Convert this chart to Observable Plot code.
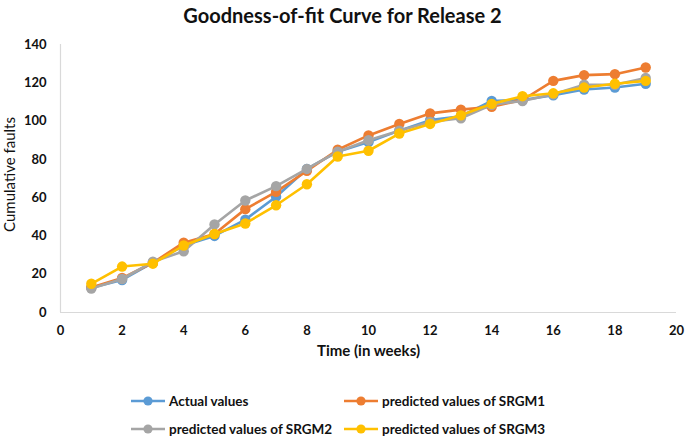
<!DOCTYPE html>
<html>
<head>
<meta charset="utf-8">
<script src="https://cdn.jsdelivr.net/npm/d3@7"></script>
<script src="https://cdn.jsdelivr.net/npm/@observablehq/plot@0.6"></script>
<style>
  body { margin: 0; background: #fff; font-family: Lato, "Open Sans", sans-serif; width: 685px; height: 438px; position: relative; overflow: hidden; }
  #title { height: 32px; line-height: 30px; text-align: center; font-weight: bold; font-size: 20px; color: #111; }
  .leg { position: absolute; display: flex; align-items: center; font-weight: bold; font-size: 13.5px; color: #111; white-space: nowrap; }
  .leg svg { margin-right: 3px; }
</style>
</head>
<body>
<div id="title">Goodness-of-fit Curve for Release 2</div>
<div id="chart"></div>
<div id="legend"></div>
<script>
const weeks = [1,2,3,4,5,6,7,8,9,10,11,12,13,14,15,16,17,18,19];
const actualValues = [13,17,26,35,40,48.5,60.5,75,84,89,95,100.5,102.5,110.5,111,113.5,116.5,117.5,119.5];
const srgm1Values = [13,18,26,36.5,41,54,63,74,85,92.5,98.5,104,106,107.5,111,121,124,124.5,128];
const srgm2Values = [12.5,17.5,26.5,32,46,58.5,66,75,84,90,95,99.5,101.5,108.5,110.5,114,119,119,122.5];
const srgm3Values = [15,24,25.5,35,41,46.5,56,67,81.5,84.5,93.5,98.5,103,109,113,114.5,117.5,119.5,121];
const seriesNames = ["Actual values","predicted values of SRGM1","predicted values of SRGM2","predicted values of SRGM3"];
const seriesColors = ["#5B9BD5","#ED7D31","#A5A5A5","#FFC000"];
const xTicks = [0,2,4,6,8,10,12,14,16,18,20];
const yTicks = [0,20,40,60,80,100,120,140];
const xTitle = "Time (in weeks)";
const yTitle = "Cumulative faults";

const seriesValues = [actualValues, srgm1Values, srgm2Values, srgm3Values];
const marks = [
  Plot.ruleY([0], {stroke: "#d9d9d9", strokeWidth: 1.2}),
  Plot.ruleX([0], {stroke: "#d9d9d9", strokeWidth: 1.2})
];
seriesNames.forEach((name, i) => {
  const rows = weeks.map((w, j) => ({week: w, value: seriesValues[i][j], series: name}));
  marks.push(Plot.line(rows, {x: "week", y: "value", stroke: "series", strokeWidth: 2.6}));
  marks.push(Plot.dot(rows, {x: "week", y: "value", fill: "series", r: 5.2}));
});
marks.push(Plot.text([xTitle], {frameAnchor: "bottom", dy: 43, text: d => d, fontSize: 15, fontWeight: "bold", fill: "#111"}));
marks.push(Plot.text([yTitle], {frameAnchor: "left", textAnchor: "middle", dx: -50, dy: -4, rotate: -90, text: d => d, fontSize: 15, fontWeight: "normal", fill: "#111"}));

const chart = Plot.plot({
  width: 685,
  height: 335,
  marginTop: 12,
  marginBottom: 55,
  marginLeft: 60,
  marginRight: 9,
  style: {fontFamily: "Lato, 'Open Sans', sans-serif", fontSize: "13px", fontWeight: "bold", color: "#111", background: "#fff", overflow: "visible"},
  x: {domain: [0, 20], ticks: xTicks, tickSize: 0, tickPadding: 13, label: null},
  y: {domain: [0, 140], ticks: yTicks, tickSize: 0, tickPadding: 14, label: null},
  color: {domain: seriesNames, range: seriesColors},
  marks
});
document.getElementById("chart").appendChild(chart);

const legendPos = [[130, 393], [343, 393], [130, 421], [343, 421]];
const legend = document.getElementById("legend");
seriesNames.forEach((name, i) => {
  const div = document.createElement("div");
  div.className = "leg";
  div.style.left = legendPos[i][0] + "px";
  div.style.top = legendPos[i][1] + "px";
  div.innerHTML = `<svg width="36" height="14"><line x1="1" y1="7" x2="35" y2="7" stroke="${seriesColors[i]}" stroke-width="2.6"/><circle cx="18" cy="7" r="4.6" fill="${seriesColors[i]}"/></svg><span>${name}</span>`;
  legend.appendChild(div);
});
</script>
</body>
</html>
